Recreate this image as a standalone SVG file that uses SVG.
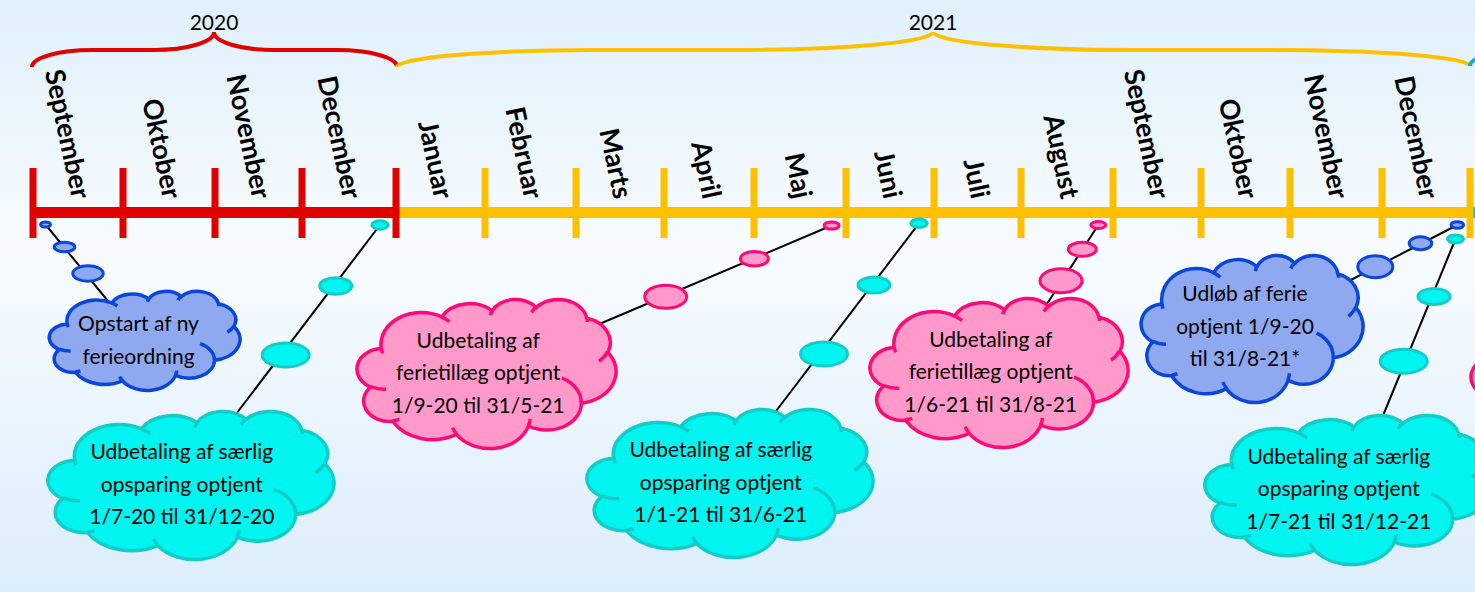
<svg xmlns="http://www.w3.org/2000/svg" xmlns:xlink="http://www.w3.org/1999/xlink" width="1475" height="592" viewBox="0 0 1475 592">
<defs>
<linearGradient id="bg" x1="0" y1="0" x2="0" y2="1">
<stop offset="0" stop-color="#E0F0FB"/>
<stop offset="0.42" stop-color="#F8FCFF"/>
<stop offset="1" stop-color="#DCEDFB"/>
</linearGradient>
<path id="cloud" vector-effect="non-scaling-stroke" d="M39,143.7 A67.53,91.9 0 0 1 140.05,52.03 A53.33,72.67 0 0 1 224.56,34.33 A43.65,59.45 0 0 1 298.33,24.83 A48.57,65.95 0 0 1 383.18,55.79 A53.33,72.73 0 0 1 418.18,154.63 A67.75,92.2 0 0 1 374.03,302.06 A57.85,78.67 0 0 1 285.54,368.15 A67.52,92.15 0 0 1 164.78,392.65 A77.2,105.43 0 0 1 58.02,354.68 A43.6,59.18 0 0 1 21.12,255.45 A43.45,59.45 0 0 1 39,143.7 Z"/>
<path id="hooks" vector-effect="non-scaling-stroke" fill="none" d="M46.93,261.77 A43.45,59.45 0 0 1 21.59,253.8 M69.28,348.99 A43.6,59.18 0 0 1 58.19,352.81 M164.78,390.9 A67.52,92.15 0 0 1 158.11,373.5 M288.27,347.51 A67.52,92.15 0 0 1 285.6,366.6 M341.29,229.54 A57.85,78.67 0 0 1 373.81,300.9 M417.98,153.54 A53.33,72.73 0 0 1 403.5,180.3 M383.24,54.26 A48.57,65.95 0 0 1 384,66.9 M290.78,39.52 A48.57,65.95 0 0 1 298.2,23.39 M221.41,47.2 A43.65,59.45 0 0 1 225.01,33.29 M140,51.92 A67.53,91.9 0 0 1 153.01,65.42 M41.27,157.89 A67.53,91.9 0 0 1 39,143.7"/>
</defs>
<style>
.month{font-family:Lato,"Liberation Sans",sans-serif;font-weight:700;font-size:27px;fill:#000;text-anchor:end}
.year{font-family:Lato,"Liberation Sans",sans-serif;font-size:21px;fill:#000;text-anchor:middle}
.ct{font-family:Lato,"Liberation Sans",sans-serif;font-size:21px;fill:#000;text-anchor:middle}
.blue{fill:#8EA9EF;stroke:#0B46DA;stroke-width:3.5}
.cyan{fill:#00F5F0;stroke:#12CDC7;stroke-width:3.5}
.pink{fill:#FF99C9;stroke:#FF0A78;stroke-width:3.5}
.bub{stroke-width:3}
.conn{stroke:#000;stroke-width:2;fill:none}
.brace{fill:none;stroke-width:4}
.red{fill:#E10000}
.yel{fill:#FFC000}
</style>
<rect width="1475" height="592" fill="url(#bg)"/>

<g id="braces">
<path class="brace" stroke="#E10000" d="M32,67 A60,17 0 0 1 92,50 L154,50 A60,18 0 0 0 214,32 A60,18 0 0 0 274,50 L337,50 A60,17 0 0 1 397,67"/>
<path class="brace" stroke="#FFC000" d="M397,67 A200,17 0 0 1 597,50 L733,50 A200,18 0 0 0 933,32 A200,18 0 0 0 1133,50 L1270,50 A200,16 0 0 1 1470,66"/>
<path class="brace" stroke="#00B0F0" d="M1470,66 A60,16 0 0 1 1530,50"/>
<text class="year" x="214" y="30">2020</text>
<text class="year" x="933" y="30">2021</text>
</g>

<g id="months">
<text class="month" transform="translate(72 200) rotate(78)">September</text>
<text class="month" transform="translate(163 200) rotate(78)">Oktober</text>
<text class="month" transform="translate(252.5 200) rotate(78)">November</text>
<text class="month" transform="translate(343 200) rotate(78)">December</text>
<text class="month" transform="translate(434.5 200) rotate(78)">Januar</text>
<text class="month" transform="translate(524.5 200) rotate(78)">Februar</text>
<text class="month" transform="translate(614 200) rotate(78)">Marts</text>
<text class="month" transform="translate(703 200) rotate(78)">April</text>
<text class="month" transform="translate(794 200) rotate(78)">Maj</text>
<text class="month" transform="translate(884 200) rotate(78)">Juni</text>
<text class="month" transform="translate(971.5 200) rotate(78)">Juli</text>
<text class="month" transform="translate(1061 200) rotate(78)">August</text>
<text class="month" transform="translate(1151 200) rotate(78)">September</text>
<text class="month" transform="translate(1239.5 200) rotate(78)">Oktober</text>
<text class="month" transform="translate(1330 200) rotate(78)">November</text>
<text class="month" transform="translate(1420 200) rotate(78)">December</text>
</g>

<g id="timeline">
<rect x="1473" y="207" width="10" height="11" fill="#00B0F0"/>
<rect class="red" x="30" y="207" width="369.5" height="11"/>
<rect class="yel" x="399.5" y="207" width="1073.5" height="11"/>
<rect class="red" x="29.5" y="168" width="7" height="70"/>
<rect class="red" x="119.5" y="168" width="7" height="70"/>
<rect class="red" x="211.5" y="168" width="7" height="70"/>
<rect class="red" x="298.5" y="168" width="7" height="70"/>
<rect class="red" x="392.5" y="168" width="7" height="70"/>
<rect class="yel" x="481.5" y="168" width="7" height="70"/>
<rect class="yel" x="572.5" y="168" width="7" height="70"/>
<rect class="yel" x="660.5" y="168" width="7" height="70"/>
<rect class="yel" x="750.5" y="168" width="7" height="70"/>
<rect class="yel" x="842.5" y="168" width="7" height="70"/>
<rect class="yel" x="930.5" y="168" width="7" height="70"/>
<rect class="yel" x="1017.5" y="168" width="7" height="70"/>
<rect class="yel" x="1109.5" y="168" width="7" height="70"/>
<rect class="yel" x="1197.5" y="168" width="7" height="70"/>
<rect class="yel" x="1286.5" y="168" width="7" height="70"/>
<rect class="yel" x="1378.5" y="168" width="7" height="70"/>
<rect class="yel" x="1466.5" y="168" width="7" height="70"/>
</g>

<g id="connectors">
<line class="conn" x1="45.5" y1="224.5" x2="112" y2="306"/>
<line class="conn" x1="380" y1="225" x2="230" y2="422"/>
<line class="conn" x1="831.6" y1="225.5" x2="590" y2="328"/>
<line class="conn" x1="919" y1="223.3" x2="770" y2="419"/>
<line class="conn" x1="1457.3" y1="225" x2="1345" y2="283"/>
<line class="conn" x1="1098.3" y1="225" x2="1043" y2="310"/>
<line class="conn" x1="1455.5" y1="239" x2="1380" y2="423"/>
</g>

<g id="cloud-opstart">
<ellipse class="blue bub" cx="45.5" cy="224.5" rx="5" ry="2.6"/>
<ellipse class="blue bub" cx="64.5" cy="247" rx="10.3" ry="4.8"/>
<ellipse class="blue bub" cx="88" cy="273.5" rx="15.2" ry="7.8"/>
<g transform="translate(50 291) scale(0.4398 0.2292)"><use xlink:href="#cloud" class="blue"/><use xlink:href="#hooks" class="blue"/></g>
<text class="ct" x="138.5" y="331"><tspan x="138.5">Opstart af ny</tspan><tspan x="138.5" dy="32.5">ferieordning</tspan></text>
</g>

<g id="cloud-saerlig-2020">
<ellipse class="cyan bub" cx="380" cy="225" rx="8.2" ry="4.2"/>
<ellipse class="cyan bub" cx="335.7" cy="286" rx="16" ry="8.2"/>
<ellipse class="cyan bub" cx="285.7" cy="355" rx="23.5" ry="12"/>
<g transform="translate(49 411) scale(0.6597 0.3426)"><use xlink:href="#cloud" class="cyan"/><use xlink:href="#hooks" class="cyan"/></g>
<text class="ct" y="459"><tspan x="181.8">Udbetaling af særlig</tspan><tspan x="181.8" dy="32.5">opsparing optjent</tspan><tspan x="181.8" dy="32.5">1/7-20 til 31/12-20</tspan></text>
</g>

<g id="cloud-ferietillaeg-1">
<ellipse class="pink bub" cx="831.6" cy="225.5" rx="7.5" ry="3.6"/>
<ellipse class="pink bub" cx="754.4" cy="258.7" rx="14" ry="7.3"/>
<ellipse class="pink bub" cx="665.7" cy="296.7" rx="21" ry="11.5"/>
<g transform="translate(358 299) scale(0.5972 0.3449)"><use xlink:href="#cloud" class="pink"/><use xlink:href="#hooks" class="pink"/></g>
<text class="ct" y="347.5"><tspan x="478.2">Udbetaling af</tspan><tspan x="478.2" dy="32.5">ferietillæg optjent</tspan><tspan x="478.2" dy="32.5">1/9-20 til 31/5-21</tspan></text>
</g>

<g id="cloud-saerlig-2021a">
<ellipse class="cyan bub" cx="919" cy="223.3" rx="8.2" ry="4.2"/>
<ellipse class="cyan bub" cx="874" cy="285" rx="16" ry="8"/>
<ellipse class="cyan bub" cx="824" cy="354" rx="23.5" ry="12"/>
<g transform="translate(588 409) scale(0.6597 0.3426)"><use xlink:href="#cloud" class="cyan"/><use xlink:href="#hooks" class="cyan"/></g>
<text class="ct" y="457"><tspan x="720.8">Udbetaling af særlig</tspan><tspan x="720.8" dy="32.5">opsparing optjent</tspan><tspan x="720.8" dy="32.5">1/1-21 til 31/6-21</tspan></text>
</g>

<g id="cloud-ferietillaeg-2">
<ellipse class="pink bub" cx="1098.3" cy="225" rx="7.5" ry="3.5"/>
<ellipse class="pink bub" cx="1082.3" cy="249.3" rx="14" ry="7"/>
<ellipse class="pink bub" cx="1061" cy="280.7" rx="21" ry="12"/>
<g transform="translate(871 298) scale(0.5949 0.3449)"><use xlink:href="#cloud" class="pink"/><use xlink:href="#hooks" class="pink"/></g>
<text class="ct" y="346.5"><tspan x="990.8">Udbetaling af</tspan><tspan x="990.8" dy="32.5">ferietillæg optjent</tspan><tspan x="990.8" dy="32.5">1/6-21 til 31/8-21</tspan></text>
</g>

<g id="cloud-udloeb">
<ellipse class="blue bub" cx="1457.3" cy="225" rx="6.3" ry="3.3"/>
<ellipse class="blue bub" cx="1420.5" cy="243.3" rx="11.3" ry="6.5"/>
<ellipse class="blue bub" cx="1375.3" cy="266.7" rx="17.5" ry="11"/>
<g transform="translate(1142 255) scale(0.5116 0.3403)"><use xlink:href="#cloud" class="blue"/><use xlink:href="#hooks" class="blue"/></g>
<text class="ct" y="301"><tspan x="1245">Udløb af ferie</tspan><tspan x="1245" dy="32.5">optjent 1/9-20</tspan><tspan x="1245" dy="32.5">til 31/8-21*</tspan></text>
</g>

<g id="cloud-saerlig-2021b">
<ellipse class="cyan bub" cx="1455.5" cy="239" rx="8" ry="4"/>
<ellipse class="cyan bub" cx="1434" cy="296.5" rx="16" ry="8"/>
<ellipse class="cyan bub" cx="1403.7" cy="361.3" rx="23.5" ry="12"/>
<g transform="translate(1206 415) scale(0.6597 0.3449)"><use xlink:href="#cloud" class="cyan"/><use xlink:href="#hooks" class="cyan"/></g>
<text class="ct" y="463.5"><tspan x="1338.8">Udbetaling af særlig</tspan><tspan x="1338.8" dy="32.5">opsparing optjent</tspan><tspan x="1338.8" dy="32.5">1/7-21 til 31/12-21</tspan></text>
</g>

<g id="cloud-offscreen">
<g transform="translate(1472 307) scale(0.5949 0.3449)"><use xlink:href="#cloud" class="pink"/></g>
</g>
</svg>
